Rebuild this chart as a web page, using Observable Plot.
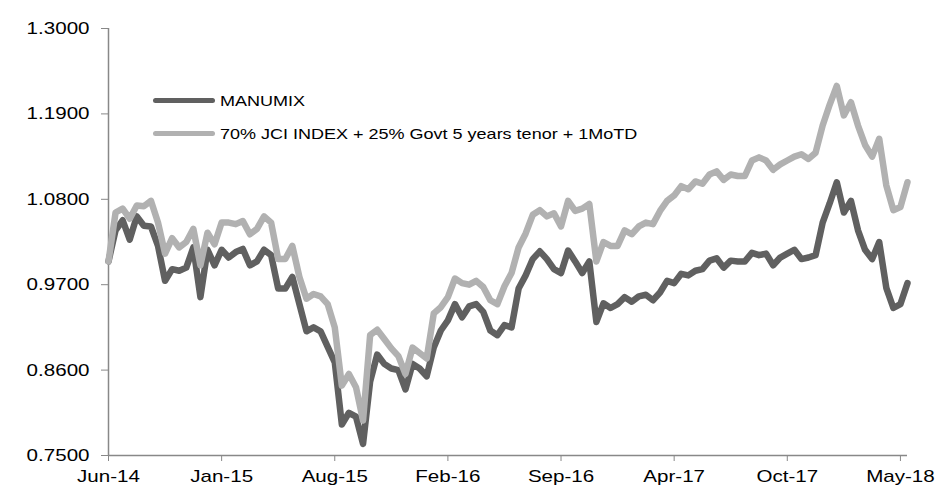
<!DOCTYPE html>
<html><head><meta charset="utf-8">
<script src="https://cdn.jsdelivr.net/npm/d3@7"></script>
<script src="https://cdn.jsdelivr.net/npm/@observablehq/plot@0.6"></script>
<style>
body{margin:0;background:#fff;font-family:"Liberation Sans",Arial,sans-serif;}
#wrap{position:relative;width:946px;height:488px;}
.lg{position:absolute;left:153px;height:20px;display:flex;align-items:center;white-space:nowrap;}
.lg .sw{display:inline-block;width:62px;height:5px;border-radius:3px;}
.lg .tx{display:inline-block;margin-left:5px;font-size:15px;color:#000;transform:scaleX(1.2);transform-origin:0 50%;}
</style></head>
<body><div id="wrap"></div>
<script>
const xTickLabels = ["Jun-14","Jan-15","Aug-15","Feb-16","Sep-16","Apr-17","Oct-17","May-18"];
const pointsPerTick = 16;
const yTicks = [0.75, 0.86, 0.97, 1.08, 1.19, 1.30];
const seriesNames = ["MANUMIX", "70% JCI INDEX + 25% Govt 5 years tenor + 1MoTD"];
const seriesColors = ["#606060", "#b1b1b1"];

const manumix = [
1.000,1.040,1.053,1.028,1.058,1.046,1.045,1.020,0.975,0.990,
0.988,0.992,1.018,0.954,1.015,0.995,1.015,1.005,1.012,1.016,
0.995,1.000,1.015,1.008,0.965,0.965,0.980,0.945,0.910,0.915,
0.910,0.890,0.870,0.790,0.805,0.800,0.765,0.845,0.880,0.868,
0.862,0.860,0.835,0.868,0.862,0.852,0.889,0.911,0.924,0.945,
0.928,0.942,0.945,0.935,0.911,0.905,0.918,0.915,0.965,0.982,
1.003,1.013,1.003,0.990,0.985,1.014,1.000,0.985,1.000,0.922,
0.946,0.940,0.945,0.954,0.948,0.955,0.957,0.950,0.960,0.975,
0.972,0.984,0.982,0.988,0.990,1.001,1.004,0.992,1.001,1.000,
1.000,1.011,1.008,1.010,0.995,1.005,1.010,1.015,1.003,1.005,
1.008,1.050,1.075,1.102,1.063,1.078,1.040,1.015,1.003,1.025,
0.966,0.940,0.945,0.972];

const benchmark = [
1.000,1.063,1.068,1.055,1.072,1.071,1.078,1.050,1.010,1.030,
1.018,1.025,1.042,0.995,1.037,1.022,1.050,1.050,1.048,1.052,
1.035,1.042,1.058,1.050,1.003,1.003,1.020,0.980,0.952,0.958,
0.955,0.945,0.915,0.840,0.855,0.838,0.795,0.905,0.912,0.900,
0.888,0.878,0.855,0.889,0.882,0.875,0.933,0.941,0.954,0.978,
0.972,0.970,0.975,0.967,0.950,0.945,0.968,0.985,1.018,1.036,
1.060,1.066,1.058,1.062,1.045,1.078,1.065,1.068,1.074,1.000,
1.025,1.020,1.020,1.040,1.035,1.045,1.050,1.048,1.065,1.078,
1.085,1.097,1.093,1.103,1.100,1.112,1.116,1.105,1.112,1.110,
1.110,1.130,1.134,1.130,1.118,1.125,1.130,1.135,1.138,1.132,
1.140,1.175,1.202,1.226,1.188,1.205,1.175,1.150,1.135,1.158,
1.098,1.066,1.070,1.102];

const axisGray = "#888888";
const plot = Plot.plot({
  width: 946, height: 488,
  marginLeft: 108, marginRight: 39, marginTop: 28, marginBottom: 33,
  style: {fontFamily: "Liberation Sans, Arial, sans-serif", fontSize: "17px", color: "#000", background: "#fff"},
  x: {type: "linear", domain: [0, manumix.length - 1]},
  y: {domain: [0.75, 1.3]},
  marks: [
    Plot.axisY({ticks: yTicks, tickFormat: d => d.toFixed(4), tickSize: 7, tickPadding: 12, stroke: axisGray, label: null}),
    Plot.axisX({ticks: xTickLabels.map((_, k) => k * pointsPerTick), tickFormat: d => xTickLabels[Math.round(d / pointsPerTick)], tickSize: 6, tickPadding: 8, stroke: axisGray, label: null}),
    Plot.ruleX([0], {stroke: axisGray, strokeWidth: 1.5}),
    Plot.ruleY([0.75], {stroke: axisGray, strokeWidth: 1.5}),
    Plot.line(manumix, {x: (d, i) => i, y: d => d, stroke: seriesColors[0], strokeWidth: 6.5, strokeLinejoin: "round", strokeLinecap: "round"}),
    Plot.line(benchmark, {x: (d, i) => i, y: d => d, stroke: seriesColors[1], strokeWidth: 6.5, strokeLinejoin: "round", strokeLinecap: "round"})
  ]
});
const wrap = document.getElementById("wrap");
wrap.appendChild(plot);
// horizontal stretch of axis text, as in the reference
plot.querySelectorAll('g[aria-label$="tick label"] text').forEach(t => {
  const w = t.getComputedTextLength();
  t.setAttribute("textLength", (w * 1.21).toFixed(1));
  t.setAttribute("lengthAdjust", "spacingAndGlyphs");
});
// legend
const legendTops = [90, 123];
seriesNames.forEach((name, k) => {
  const row = document.createElement("div");
  row.className = "lg";
  row.style.top = legendTops[k] + "px";
  row.innerHTML = `<span class="sw" style="background:${seriesColors[k]}"></span><span class="tx">${name}</span>`;
  wrap.appendChild(row);
});
</script>
</body></html>
